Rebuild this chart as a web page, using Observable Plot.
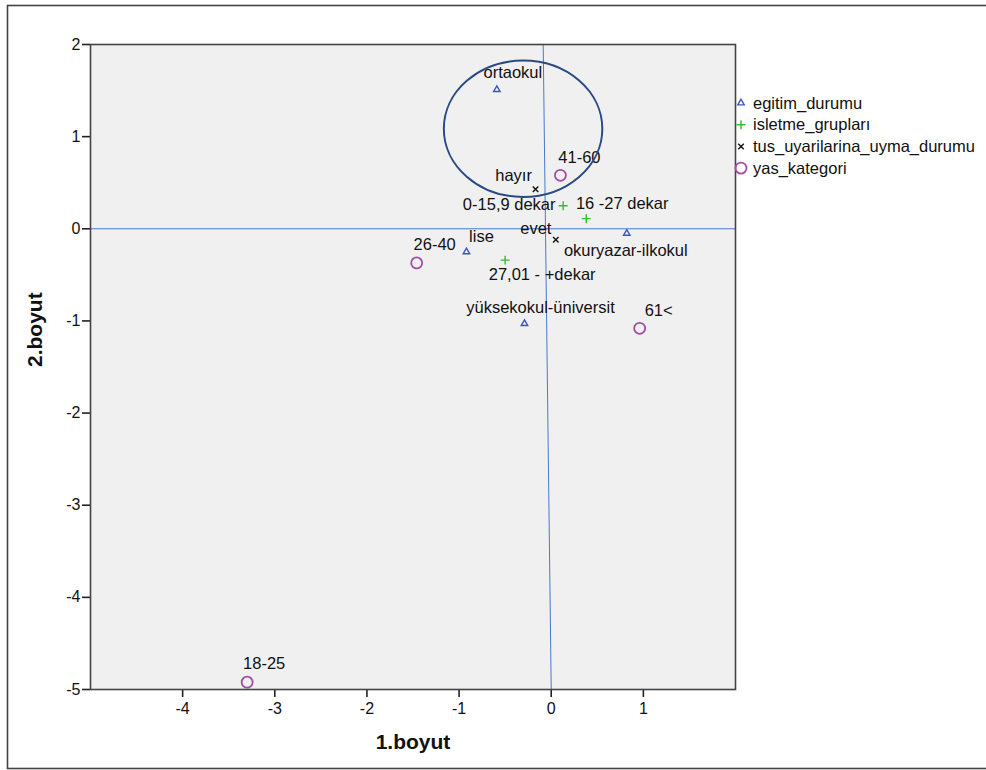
<!DOCTYPE html>
<html>
<head>
<meta charset="utf-8">
<script src="https://cdn.jsdelivr.net/npm/d3@7"></script>
<script src="https://cdn.jsdelivr.net/npm/@observablehq/plot@0.6"></script>
<style>
  html, body { margin: 0; padding: 0; background: #fff; }
  #chart svg { display: block; font-family: "Liberation Sans", Arial, sans-serif; }
</style>
</head>
<body>
<div id="chart"></div>
<script>
// ---- data ----
const labels = ["ortaokul", "hayır", "41-60", "0-15,9 dekar", "16 -27 dekar", "evet",
  "okuryazar-ilkokul", "lise", "26-40", "27,01 - +dekar", "yüksekokul-üniversit", "61<", "18-25"];
const groups = ["egitim_durumu", "tus_uyarilarina_uyma_durumu", "yas_kategori", "isletme_grupları",
  "isletme_grupları", "tus_uyarilarina_uyma_durumu", "egitim_durumu", "egitim_durumu", "yas_kategori",
  "isletme_grupları", "egitim_durumu", "yas_kategori", "yas_kategori"];
const dim1 = [-0.59, -0.17, 0.10, 0.13, 0.38, 0.05, 0.82, -0.92, -1.46, -0.50, -0.29, 0.96, -3.30];
const dim2 = [1.51, 0.43, 0.58, 0.25, 0.11, -0.12, -0.05, -0.25, -0.37, -0.34, -1.03, -1.08, -4.92];

const seriesNames = ["egitim_durumu", "isletme_grupları", "tus_uyarilarina_uyma_durumu", "yas_kategori"];
const xTicks = [-4, -3, -2, -1, 0, 1];
const yTicks = [-5, -4, -3, -2, -1, 0, 1, 2];

// reference lines (as drawn in the source)
const refVX = [-0.087, 0];
const refVY = [2, -5];
// highlight ellipse (center and radii in data units)
const ellipseCenter = [-0.30, 1.08];
const ellipseRadii = [0.86, 0.74];

// ---- styles ----
const symbolOf = {egitim_durumu: "triangle2", isletme_grupları: "plus", tus_uyarilarina_uyma_durumu: "times", yas_kategori: "circle"};
const colorOf = {egitim_durumu: "#3b55c6", isletme_grupları: "#2ec02e", tus_uyarilarina_uyma_durumu: "#111111", yas_kategori: "#a24fa4"};
const sizeOf = {egitim_durumu: 3.1, isletme_grupları: 3.0, tus_uyarilarina_uyma_durumu: 2.6, yas_kategori: 5.5};
const widthOf = {egitim_durumu: 1.4, isletme_grupları: 1.4, tus_uyarilarina_uyma_durumu: 1.4, yas_kategori: 1.8};
// label offsets in pixels (label centre relative to point)
const labelOffset = {
  "ortaokul": [16, -17], "hayır": [-22, -13], "41-60": [19, -18], "0-15,9 dekar": [-54, -1],
  "16 -27 dekar": [36, -15], "evet": [-20, -11], "okuryazar-ilkokul": [-1, 17], "lise": [15, -15],
  "26-40": [18, -18], "27,01 - +dekar": [37, 15], "yüksekokul-üniversit": [16, -16], "61<": [19, -18],
  "18-25": [17, -18]
};

const points = labels.map((l, i) => ({label: l, group: groups[i], x: dim1[i], y: dim2[i]}));
const refLine = refVX.map((x, i) => ({x, y: refVY[i]}));

const W = 986, H = 770;
const mL = 90, mR = 251, mT = 44, mB = 81;

const fmt = d => String(d).replace("−", "-");
const marks = [
  Plot.frame({fill: "#f0f0f0"}),
  Plot.ruleY([0], {stroke: "#4a78cc", strokeWidth: 1}),
  Plot.line(refLine, {x: "x", y: "y", stroke: "#4a78cc", strokeWidth: 1}),
  Plot.axisX({ticks: xTicks, tickSize: 8, tickPadding: 5, tickFormat: fmt, label: null, stroke: "#222", strokeWidth: 1.6, fill: "#111", fontSize: 16}),
  Plot.axisY({ticks: yTicks, tickSize: 8, tickPadding: 2, tickFormat: fmt, label: null, stroke: "#222", strokeWidth: 1.6, fill: "#111", fontSize: 16}),
];
for (const g of seriesNames) {
  marks.push(Plot.dot(points.filter(p => p.group === g), {
    x: "x", y: "y", symbol: () => symbolOf[g], r: sizeOf[g], stroke: colorOf[g],
    strokeWidth: widthOf[g], fill: "none"
  }));
}
for (const p of points) {
  const [dx, dy] = labelOffset[p.label];
  marks.push(Plot.text([p], {x: "x", y: "y", text: "label", dx, dy, fontSize: 16.5, fill: "#111"}));
}
marks.push(
  Plot.frame({stroke: "#444", strokeWidth: 1.6}),
  Plot.text(["1.boyut"], {frameAnchor: "bottom", dy: 59, fontSize: 21, fontWeight: "bold", fill: "#111"}),
  Plot.text(["2.boyut"], {frameAnchor: "left", dx: -55, rotate: -90, fontSize: 21, fontWeight: "bold", fill: "#111"})
);

const chart = Plot.plot({
  width: W, height: H,
  marginLeft: mL, marginRight: mR, marginTop: mT, marginBottom: mB,
  x: {domain: [-5, 2]},
  y: {domain: [-5, 2]},
  symbol: {domain: ["triangle2", "plus", "times", "circle"], range: ["triangle2", "plus", "times", "circle"]},
  style: {fontFamily: "'Liberation Sans', Arial, sans-serif", fontSize: "16px", background: "#fff", color: "#111"},
  marks
});

const svg = d3.select(chart);
svg.selectAll('g[aria-label="x-axis tick label"] text, g[aria-label="y-axis tick label"] text').attr("font-size", 16).style("font-size", "16px");
const sx = chart.scale("x"), sy = chart.scale("y");
// ellipse annotation
const cx = sx.apply(ellipseCenter[0]), cy = sy.apply(ellipseCenter[1]);
const rx = sx.apply(ellipseCenter[0] + ellipseRadii[0]) - cx;
const ry = cy - sy.apply(ellipseCenter[1] + ellipseRadii[1]);
svg.append("ellipse").attr("cx", cx).attr("cy", cy).attr("rx", rx).attr("ry", ry)
  .attr("fill", "none").attr("stroke", "#2a4a86").attr("stroke-width", 2);

// outer border
svg.append("rect").attr("x", 7.5).attr("y", 5.5).attr("width", W).attr("height", 763)
  .attr("fill", "none").attr("stroke", "#444").attr("stroke-width", 1.6);

// legend
const lg = svg.append("g").attr("transform", "translate(741,103)").attr("text-anchor", "start");
seriesNames.forEach((g, i) => {
  const row = lg.append("g").attr("transform", `translate(0,${i * 21.7})`);
  const sym = {triangle2: d3.symbolTriangle2, plus: d3.symbolPlus, times: d3.symbolTimes, circle: d3.symbolCircle}[symbolOf[g]];
  const r = sizeOf[g];
  row.append("path").attr("d", d3.symbol(sym, Math.PI * r * r)())
    .attr("fill", "none").attr("stroke", colorOf[g]).attr("stroke-width", widthOf[g]);
  row.append("text").attr("x", 12).attr("y", 0).attr("dy", "0.35em")
    .attr("text-anchor", "start").attr("font-size", 16.5).attr("fill", "#111").text(g);
});

document.getElementById("chart").appendChild(chart);
</script>
</body>
</html>
